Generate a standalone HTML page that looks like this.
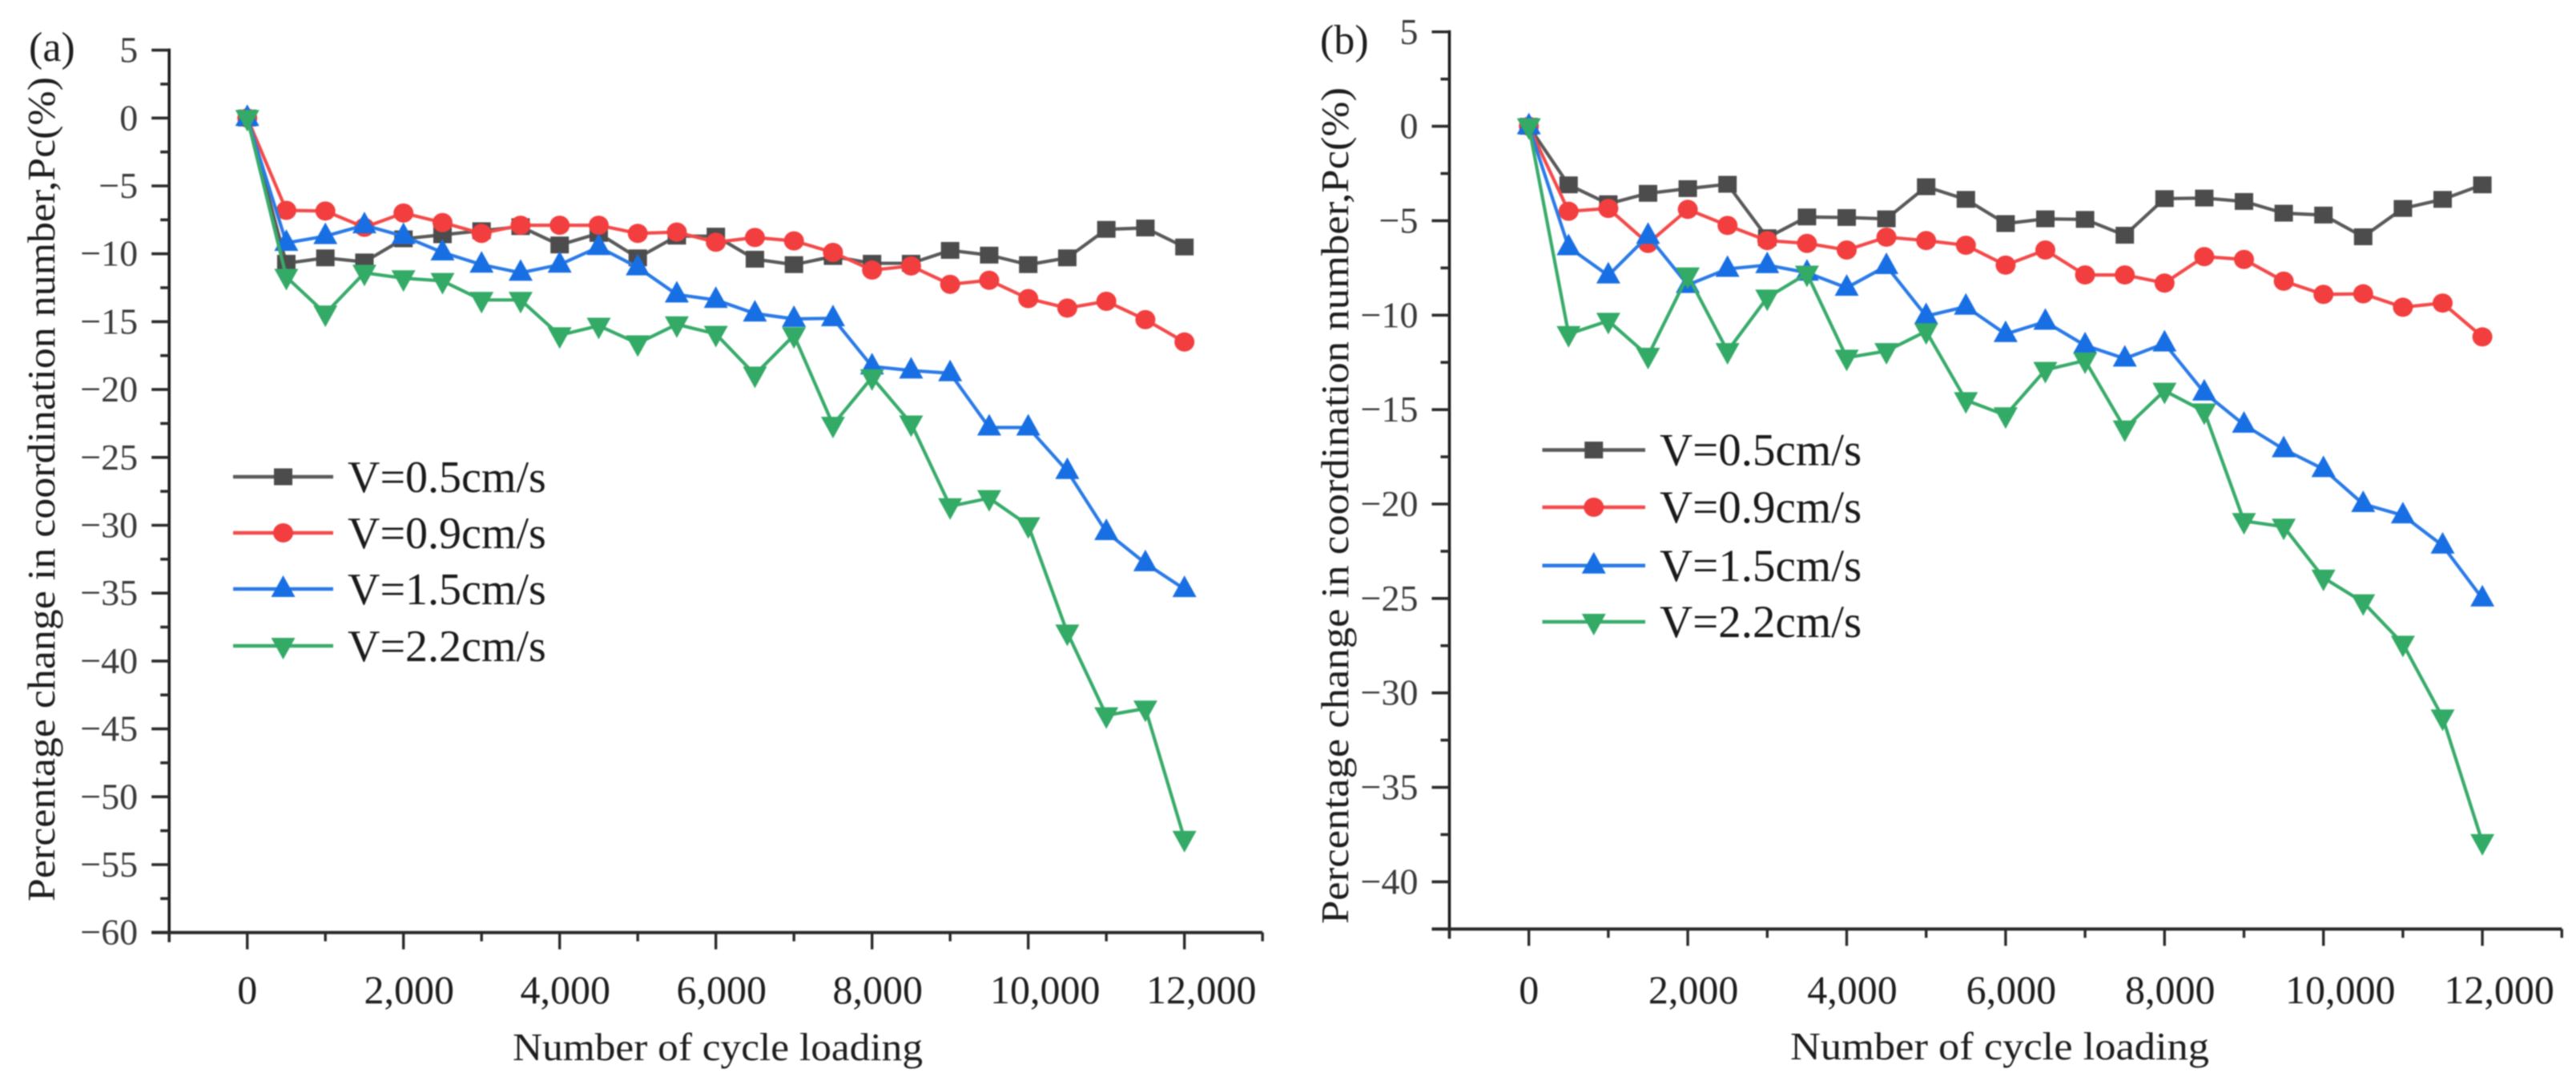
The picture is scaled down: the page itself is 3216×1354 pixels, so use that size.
<!DOCTYPE html>
<html>
<head>
<meta charset="utf-8">
<title>Percentage change in coordination number</title>
<style>
html,body{margin:0;padding:0;background:#fff;width:3216px;height:1354px;overflow:hidden}
svg{display:block;filter:blur(0.9px)}
text{font-family:"Liberation Serif",serif}
</style>
</head>
<body>
<svg id="chart" xmlns="http://www.w3.org/2000/svg" width="3216" height="1354" viewBox="0 0 3216 1354"></svg>
<script>
// Shared categories and labels
const cycles = [0,500,1000,1500,2000,2500,3000,3500,4000,4500,5000,5500,6000,6500,7000,7500,8000,8500,9000,9500,10000,10500,11000,11500,12000];
const seriesNames = ['V=0.5cm/s','V=0.9cm/s','V=1.5cm/s','V=2.2cm/s'];
const xTickValues = [0,2000,4000,6000,8000,10000,12000];
const xTickLabels = ['0','2,000','4,000','6,000','8,000','10,000','12,000'];
const yTicksA = [5,0,-5,-10,-15,-20,-25,-30,-35,-40,-45,-50,-55,-60];
const yTicksB = [5,0,-5,-10,-15,-20,-25,-30,-35,-40];

// Panel (a) series
const a05 = [0,-10.7,-10.3,-10.6,-8.9,-8.6,-8.3,-8.0,-9.35,-8.5,-10.3,-8.7,-8.7,-10.4,-10.8,-10.2,-10.7,-10.7,-9.75,-10.1,-10.8,-10.3,-8.2,-8.1,-9.5];
const a09 = [0,-6.8,-6.85,-8.05,-7.0,-7.7,-8.5,-7.9,-7.9,-7.9,-8.5,-8.4,-9.15,-8.8,-9.05,-9.9,-11.2,-10.9,-12.25,-11.95,-13.3,-14.0,-13.5,-14.85,-16.5];
const a15 = [0,-9.2,-8.7,-7.9,-8.7,-9.9,-10.8,-11.4,-10.8,-9.5,-11.0,-13.0,-13.4,-14.4,-14.8,-14.75,-18.3,-18.6,-18.8,-22.8,-22.8,-26.0,-30.5,-32.8,-34.7];
const a22 = [0,-11.7,-14.4,-11.4,-11.8,-12.0,-13.4,-13.4,-16.0,-15.3,-16.6,-15.2,-15.9,-18.9,-16.0,-22.6,-19.1,-22.5,-28.6,-28.0,-30.0,-37.9,-44.0,-43.5,-53.1];

// Panel (b) series
const b05 = [0,-3.1,-4.1,-3.55,-3.3,-3.07,-5.9,-4.8,-4.83,-4.9,-3.2,-3.87,-5.15,-4.9,-4.93,-5.77,-3.83,-3.8,-3.98,-4.6,-4.7,-5.85,-4.35,-3.87,-3.1];
const b09 = [0,-4.5,-4.35,-6.2,-4.4,-5.25,-6.05,-6.2,-6.55,-5.87,-6.05,-6.3,-7.35,-6.55,-7.87,-7.87,-8.3,-6.9,-7.05,-8.2,-8.9,-8.87,-9.58,-9.36,-11.15];
const b15 = [0,-6.4,-7.9,-5.8,-8.4,-7.55,-7.35,-7.75,-8.55,-7.4,-10.05,-9.55,-11.0,-10.35,-11.6,-12.3,-11.5,-14.1,-15.8,-17.1,-18.15,-20.0,-20.6,-22.2,-25.0];
const b22 = [0,-11.0,-10.3,-12.15,-7.9,-11.9,-9.07,-7.8,-12.25,-11.9,-10.85,-14.5,-15.3,-12.9,-12.4,-16.0,-14.0,-15.1,-20.9,-21.2,-23.9,-25.2,-27.4,-31.3,-37.9];

const COLORS = ['#4c4c4c','#f23e3e','#176fe3','#33aa66'];
const LINE_COLORS = ['#5a5a5a','#f34a4a','#2b7be6','#38ab6a'];
const svg = document.getElementById('chart');
const NS = 'http://www.w3.org/2000/svg';

function mk(parent, tag, attrs, txt){
  const el = document.createElementNS(NS, tag);
  for (const k in attrs) el.setAttribute(k, attrs[k]);
  if (txt !== undefined) el.textContent = txt;
  parent.appendChild(el);
  return el;
}

function drawMarker(parent, kind, cx, cy, color){
  let el;
  if (kind === 0) {
    el = mk(parent, 'rect', {x:cx-11.5, y:cy-10.5, width:23, height:21, fill:color});
  } else if (kind === 1) {
    el = mk(parent, 'ellipse', {cx:cx, cy:cy, rx:12.5, ry:12, fill:color});
  } else if (kind === 2) {
    el = mk(parent, 'polygon', {points:`${cx},${cy-17} ${cx+15},${cy+10} ${cx-15},${cy+10}`, fill:color});
  } else {
    el = mk(parent, 'polygon', {points:`${cx},${cy+17} ${cx+15},${cy-10} ${cx-15},${cy-10}`, fill:color});
  }
  
  
  return el;
}

function drawPanel(p){
  const xScale = v => p.x0 + (v - 0) * p.xPer;
  const yScale = v => p.y0 - v * p.yPer;

  const g = mk(svg, 'g', {});
  
  

  const left = xScale(-1000), right = xScale(13000);
  const top = yScale(p.yMax), bottom = yScale(p.yMin);

  // Axis lines
  const yAxis = mk(g, 'line', {x1:left, x2:left, y1:top-2, y2:bottom+12, stroke:'#1c1c1c', 'stroke-width':3.6});
  
  
  const xAxis = mk(g, 'line', {x1:left-22, x2:right, y1:bottom, y2:bottom, stroke:'#2a2a2a', 'stroke-width':4});
  
  

  // Y ticks and labels
  for (let v = p.yMax; v >= p.yMin; v -= 2.5) {
    const isMajor = Math.abs(v % 5) < 1e-9;
    const tick = mk(g, 'line', {x1:left-(isMajor?22:11), x2:left, y1:yScale(v), y2:yScale(v), stroke:'#2a2a2a', 'stroke-width':3.6});
    
    
  }
  p.yTicks.forEach(v => {
    const label = mk(g, 'text', {x:left-39, y:yScale(v)+15, 'text-anchor':'end', 'font-size':46, fill:'#3a3a3a'}, v < 0 ? '\u2212' + Math.abs(v) : String(v));
    
    
  });

  // X ticks and labels
  for (let v = -1000; v <= 13000; v += 1000) {
    const isMajor = v % 2000 === 0;
    const tick = mk(g, 'line', {x1:xScale(v), x2:xScale(v), y1:bottom, y2:bottom+(isMajor?21:11), stroke:'#2a2a2a', 'stroke-width':3.4});
    
    
  }
  xTickValues.forEach((v, i) => {
    const txt = xTickLabels[i];
    const shift = txt.length > 5 ? 21 : txt.length > 1 ? 7 : 0;
    const label = mk(g, 'text', {x:xScale(v)+shift, y:1252, 'text-anchor':'middle', 'font-size':50, fill:'#1e1e1e'}, txt);
    
    
  });

  // Axis titles
  const xTitle = mk(g, 'text', {x:p.xTitleX, y:p.xTitleY, 'font-size':49, fill:'#1e1e1e', textLength:p.xTitleLen, lengthAdjust:'spacingAndGlyphs'}, 'Number of cycle loading');
  
  
  const yTitle = mk(g, 'text', {transform:`translate(${p.yTitleX},${p.yTitleBottom}) rotate(-90)`, x:0, y:0, 'font-size':49, fill:'#1e1e1e', textLength:p.yTitleLen, lengthAdjust:'spacingAndGlyphs'}, 'Percentage change in coordination number,Pc(%)');
  
  

  // Panel tag
  const tag = mk(g, 'text', {x:p.tagX, y:p.tagY, 'font-size':52, fill:'#1e1e1e'}, p.tag);
  
  

  // Series
  p.series.forEach((vals, s) => {
    const sg = mk(g, 'g', {});
    
    
    const pts = vals.map((v, i) => xScale(cycles[i]) + ',' + yScale(v)).join(' ');
    const line = mk(sg, 'polyline', {points:pts, fill:'none', stroke:LINE_COLORS[s], 'stroke-width':4.2, 'stroke-linejoin':'round'});
    
    
    vals.forEach((v, i) => drawMarker(sg, s, xScale(cycles[i]), yScale(v), COLORS[s]));
  });

  // Legend
  const lg = mk(g, 'g', {});
  
  
  seriesNames.forEach((name, s) => {
    const e = mk(lg, 'g', {});
    
    
    const ly = p.legendY[s];
    const sample = mk(e, 'line', {x1:p.legendX1, x2:p.legendX2, y1:ly, y2:ly, stroke:LINE_COLORS[s], 'stroke-width':4.6});
    
    
    drawMarker(e, s, (p.legendX1 + p.legendX2) / 2, ly, COLORS[s]);
    const t = mk(e, 'text', {x:p.legendTextX, y:ly+19, 'font-size':p.legendFont, fill:'#1a1a1a'}, name);
    
    
  });
}

drawPanel({
  name:'panel-a', tag:'(a)', tagX:36, tagY:76,
  x0:308.7, xPer:0.0975, y0:147.3, yPer:16.94, yMax:5, yMin:-60, yTicks:yTicksA,
  series:[a05,a09,a15,a22],
  xTitleX:640, xTitleY:1323, xTitleLen:512,
  yTitleX:68, yTitleBottom:1125, yTitleLen:1029,
  legendX1:291, legendX2:416, legendTextX:434, legendFont:56, legendY:[595,665,735,806]
});
drawPanel({
  name:'panel-b', tag:'(b)', tagX:1648, tagY:67,
  x0:1908.7, xPer:0.0992, y0:157.6, yPer:23.57, yMax:5, yMin:-42.5, yTicks:yTicksB,
  series:[b05,b09,b15,b22],
  xTitleX:2235, xTitleY:1322, xTitleLen:523,
  yTitleX:1683, yTitleBottom:1153, yTitleLen:1044,
  legendX1:1925.5, legendX2:2054, legendTextX:2072, legendFont:57, legendY:[561.6,633,705.8,776]
});
</script>
</body>
</html>
